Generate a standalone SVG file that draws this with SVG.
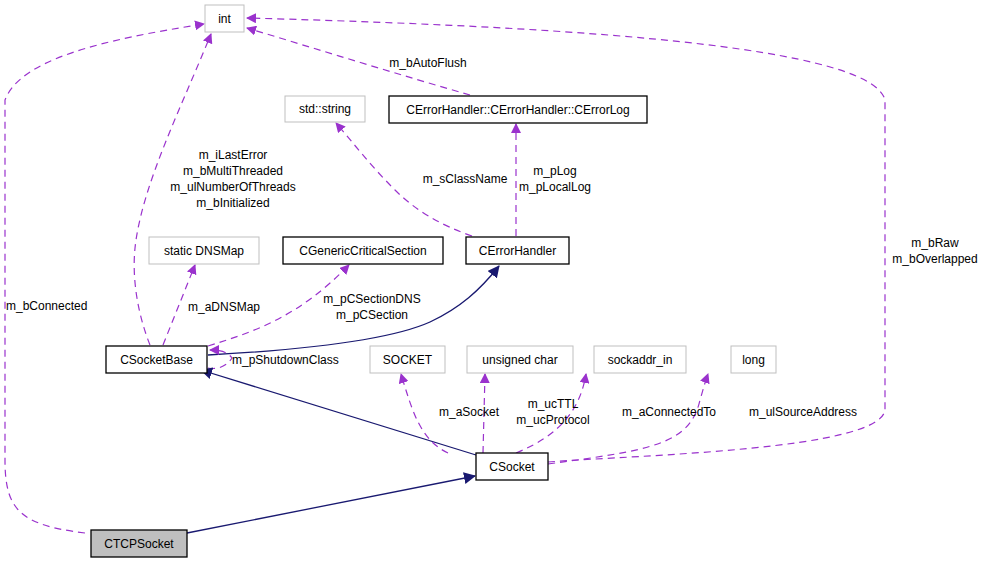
<svg xmlns="http://www.w3.org/2000/svg" width="985" height="563" viewBox="0 0 985 563">
<style>
text{font-family:"Liberation Sans",Arial,sans-serif;font-size:12px;fill:#000}
.n{text-anchor:middle}
.g{fill:#fff;stroke:#bfbfbf;stroke-width:1}
.b{fill:#fff;stroke:#000;stroke-width:1.3}
.d{fill:none;stroke:#9a32cd;stroke-dasharray:7,5;stroke-width:1.2}
.s{fill:none;stroke:#191970;stroke-width:1.3}
</style>
<defs>
<marker id="ap" markerWidth="10" markerHeight="10" refX="9" refY="5" orient="auto" markerUnits="userSpaceOnUse"><path d="M0,0L10,5L0,10z" fill="#9a32cd"/></marker>
<marker id="as" markerWidth="12" markerHeight="12" refX="11" refY="6" orient="auto" markerUnits="userSpaceOnUse"><path d="M0,0L12,6L0,12z" fill="#191970"/></marker>
</defs>
<g id="connectors">
<path class="d" marker-end="url(#ap)" d="M85,533 C20,525 5,510 5,460 L5,100 C20,60 100,40 204,24"/>
<path class="d" marker-end="url(#ap)" d="M150,345 C140,320 130,280 136,240 C145,180 180,110 211,34"/>
<path class="d" marker-end="url(#ap)" d="M470,95 C400,75 320,50 247,28"/>
<path class="d" marker-end="url(#ap)" d="M548,462 C640,455 880,450 885,410 L885,100 C870,40 500,25 247,18"/>
<path class="d" marker-end="url(#ap)" d="M472,236 C440,225 415,210 395,190 C370,165 355,145 336,123"/>
<path class="d" marker-end="url(#ap)" d="M516,236 L516,124"/>
<path class="d" marker-end="url(#ap)" d="M163,345 L195,265"/>
<path class="d" marker-end="url(#ap)" d="M208,346 C260,330 300,315 349,265"/>
<path class="s" marker-end="url(#as)" d="M208,355 C300,350 390,340 430,322 C460,308 480,290 499,266"/>
<path class="d" marker-end="url(#ap)" d="M208,368 C218,370 227,366 232,358 C228,352 220,350 210,350"/>
<path class="s" marker-end="url(#as)" d="M476,455 L201,370"/>
<path class="d" marker-end="url(#ap)" d="M448,453 C420,440 412,410 401,374"/>
<path class="d" marker-end="url(#ap)" d="M483,453 L485,374"/>
<path class="d" marker-end="url(#ap)" d="M516,453 C560,435 580,410 586,374"/>
<path class="d" marker-end="url(#ap)" d="M548,464 C650,450 690,445 700,400 C703,390 705,382 708,374"/>
<path class="s" marker-end="url(#as)" d="M187,533 L475,476"/>
</g>
<g id="int"><rect class="g" x="205" y="5" width="39" height="27"/><text class="n" x="224.5" y="23">int</text></g>
<g id="stdstring"><rect class="g" x="285" y="96" width="80" height="26"/><text class="n" x="325" y="113">std::string</text></g>
<g id="CErrorLog"><rect class="b" x="389" y="96" width="258" height="27"/><text class="n" x="518" y="114">CErrorHandler::CErrorHandler::CErrorLog</text></g>
<g id="DNSMap"><rect class="g" x="149" y="237" width="110" height="27"/><text class="n" x="204" y="255">static DNSMap</text></g>
<g id="CGenericCriticalSection"><rect class="b" x="283" y="237" width="160" height="27"/><text class="n" x="363" y="255">CGenericCriticalSection</text></g>
<g id="CErrorHandler"><rect class="b" x="466" y="237" width="103" height="27"/><text class="n" x="517.5" y="255">CErrorHandler</text></g>
<g id="CSocketBase"><rect class="b" x="106" y="346" width="101" height="27"/><text class="n" x="156.5" y="364">CSocketBase</text></g>
<g id="SOCKET"><rect class="g" x="370" y="346" width="75" height="27"/><text class="n" x="407.5" y="364">SOCKET</text></g>
<g id="uchar"><rect class="g" x="467" y="346" width="106" height="27"/><text class="n" x="520" y="364">unsigned char</text></g>
<g id="sockaddr"><rect class="g" x="594" y="346" width="92" height="27"/><text class="n" x="640" y="364">sockaddr_in</text></g>
<g id="long"><rect class="g" x="731" y="346" width="45" height="27"/><text class="n" x="753.5" y="364">long</text></g>
<g id="CSocket"><rect class="b" x="476" y="453" width="72" height="27"/><text class="n" x="512" y="471">CSocket</text></g>
<g id="CTCPSocket"><rect x="91" y="530" width="96" height="27" fill="#bfbfbf" stroke="#000" stroke-width="1.3"/><text class="n" x="139" y="548">CTCPSocket</text></g>
<g id="labels">
<text x="6" y="310">m_bConnected</text>
<text class="n" x="233" y="159">m_iLastError</text>
<text class="n" x="233" y="175">m_bMultiThreaded</text>
<text class="n" x="233" y="191">m_ulNumberOfThreads</text>
<text class="n" x="233" y="207">m_bInitialized</text>
<text class="n" x="428" y="67">m_bAutoFlush</text>
<text class="n" x="465" y="183">m_sClassName</text>
<text class="n" x="555" y="175">m_pLog</text>
<text class="n" x="555" y="191">m_pLocalLog</text>
<text class="n" x="935" y="247">m_bRaw</text>
<text class="n" x="935" y="263">m_bOverlapped</text>
<text class="n" x="224" y="311">m_aDNSMap</text>
<text class="n" x="372" y="303">m_pCSectionDNS</text>
<text class="n" x="372" y="319">m_pCSection</text>
<text x="232" y="364">m_pShutdownClass</text>
<text class="n" x="469" y="416">m_aSocket</text>
<text class="n" x="553" y="408">m_ucTTL</text>
<text class="n" x="553" y="424">m_ucProtocol</text>
<text class="n" x="669" y="416">m_aConnectedTo</text>
<text class="n" x="803" y="416">m_ulSourceAddress</text>
</g>
</svg>
